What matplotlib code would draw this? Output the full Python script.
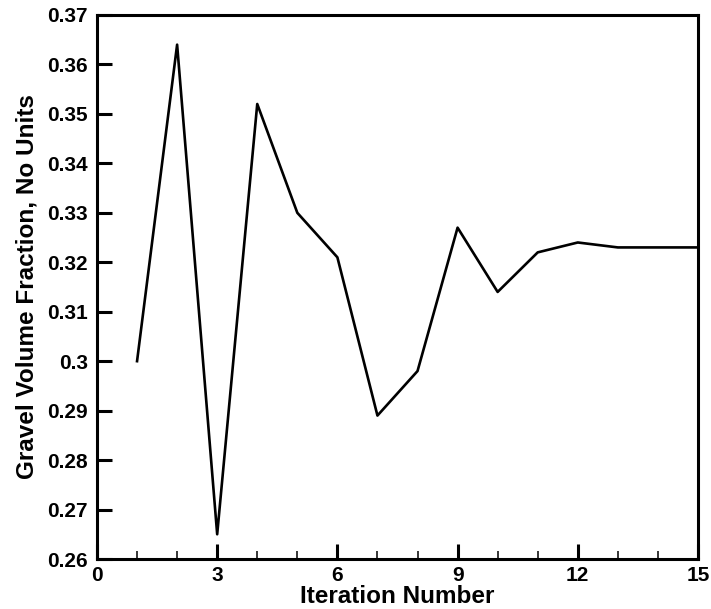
import matplotlib
matplotlib.use("Agg")
import matplotlib.pyplot as plt
from matplotlib.ticker import MultipleLocator, FuncFormatter

plt.rcParams['font.family'] = ['Liberation Sans', 'DejaVu Sans']

iterations = list(range(1, 16))
gravel_fraction = [0.300, 0.364, 0.265, 0.352, 0.330, 0.321, 0.289, 0.298,
                   0.327, 0.314, 0.322, 0.324, 0.323, 0.323, 0.323]

fig = plt.figure(figsize=(7.11, 6.09), dpi=100)
ax = fig.add_axes([0.1364, 0.0821, 0.8453, 0.8933])

ax.plot(iterations, gravel_fraction, color='black', linewidth=1.9)

ax.set_xlim(0, 15)
ax.set_ylim(0.26, 0.37)
ax.xaxis.set_major_locator(MultipleLocator(3))
ax.xaxis.set_minor_locator(MultipleLocator(1))
ax.yaxis.set_major_locator(MultipleLocator(0.01))


def fmt(v, pos):
    return f"{v:.2f}".rstrip('0').rstrip('.')


ax.yaxis.set_major_formatter(FuncFormatter(fmt))

for s in ax.spines.values():
    s.set_linewidth(2.2)

ax.tick_params(axis='both', which='major', direction='in', length=10.5, width=2.2,
               labelsize=15, top=False, right=False)
ax.tick_params(axis='x', which='minor', direction='in', length=6, width=1.1,
               top=False)
ax.tick_params(axis='x', which='major', pad=5)
ax.tick_params(axis='y', which='major', pad=6.5)
for lab in ax.get_xticklabels() + ax.get_yticklabels():
    lab.set_fontweight('bold')

ax.set_xlabel('Iteration Number', fontsize=17.5, fontweight='bold', labelpad=0)
ax.set_ylabel('Gravel Volume Fraction, No Units', fontsize=17.5, fontweight='bold',
              labelpad=6)

fig.savefig('out.png', dpi=100)
